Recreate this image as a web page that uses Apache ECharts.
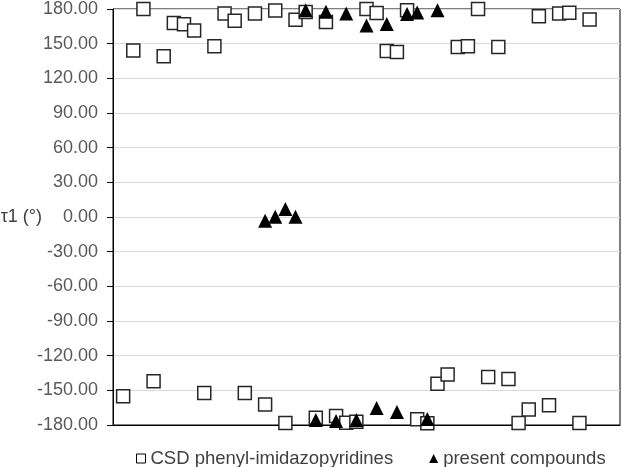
<!DOCTYPE html>
<html>
<head>
<meta charset="utf-8">
<script src="https://cdn.jsdelivr.net/npm/echarts@6/dist/echarts.min.js"></script>
<style>html,body{margin:0;padding:0;background:#fff}#c{width:622px;height:467px}</style>
</head>
<body>
<div id="c"></div>
<script>
// CSD phenyl-imidazopyridines: index 1..47
const csdIndex = [1,2,3,4,5,6,7,8,9,10,11,12,13,14,15,16,17,18,19,20,21,22,23,24,25,26,27,28,29,30,31,32,33,34,35,36,37,38,39,40,41,42,43,44,45,46,47];
const csdTau = [-155.2,144.1,180,-142.2,139.1,167.9,166.9,161.5,-152.3,147.8,176,169.8,-152.3,176,-162.2,178.8,-178.3,170.8,177.4,-173.8,168.7,-172.2,-178,-177.1,180,176.5,143.7,142.8,178.9,-175.1,-178.5,-144.3,-136.3,147.1,147.7,180,-138.5,147.1,-140.2,-178.3,-166.6,173.8,-163,176,176.7,-178.3,170.9];
// present compounds: index 15..32
const presentIndex = [15,16,17,18,19,20,21,22,23,24,25,26,27,28,29,30,31,32];
const presentTau = [-3.3,0.3,6.9,0.3,179,-175.7,177.7,-176.5,176,-175.7,165.7,-165.3,167,-168.7,175.7,177,-174.8,178.9];
const yTicks = {min:-180, max:180, step:30};
const seriesNames = ['CSD phenyl-imidazopyridines','present compounds'];
const yName = 'τ1 (°)';

const font = 'Liberation Sans, Arial, sans-serif';
const chart = echarts.init(document.getElementById('c'), null, {renderer:'canvas'});
chart.setOption({
  animation:false,
  backgroundColor:'#fff',
  grid:{left:113, right:2, top:9, bottom:42, containLabel:false, outerBoundsMode:'none',
    show:true, borderColor:'#000', borderWidth:1, backgroundColor:'transparent'},
  xAxis:{type:'value', min:0, max:50, axisLine:{onZero:false, lineStyle:{color:'#000'}}, axisTick:{show:false}, axisLabel:{show:false}, splitLine:{show:false}},
  yAxis:{type:'value', min:yTicks.min, max:yTicks.max, interval:yTicks.step,
    name:yName, nameLocation:'middle', nameRotate:0, nameGap:71, nameMoveOverlap:false,
    nameTextStyle:{align:'right', verticalAlign:'middle', color:'#404040', fontSize:18, fontFamily:font},
    axisLine:{show:true, onZero:false, lineStyle:{color:'#000'}},
    axisTick:{show:true, length:6, lineStyle:{color:'#000'}},
    axisLabel:{formatter:v=>v.toFixed(2), color:'#595959', fontSize:18, fontFamily:font, margin:15},
    splitLine:{lineStyle:{color:'#d9d9d9'}}},
  legend:{left:131, top:444, itemGap:36, itemWidth:9, itemHeight:9,
    textStyle:{color:'#404040', fontSize:18.5, fontFamily:font},
    data:[{name:seriesNames[0], icon:'rect', itemStyle:{color:'#fff', borderColor:'#000', borderWidth:1}},
          {name:seriesNames[1], icon:'triangle', itemStyle:{color:'#000', borderWidth:0}}]},
  series:[
    {name:seriesNames[0], type:'scatter', symbol:'rect', symbolSize:13,
      itemStyle:{color:'#fff', borderColor:'#262626', borderWidth:1.5, opacity:1},
      data:csdIndex.map((x,i)=>[x,csdTau[i]]), z:2},
    {name:seriesNames[1], type:'scatter', symbol:'triangle', symbolSize:14,
      itemStyle:{color:'#000', opacity:1},
      data:presentIndex.map((x,i)=>[x,presentTau[i]]), z:3}
  ]
});
</script>
</body>
</html>
